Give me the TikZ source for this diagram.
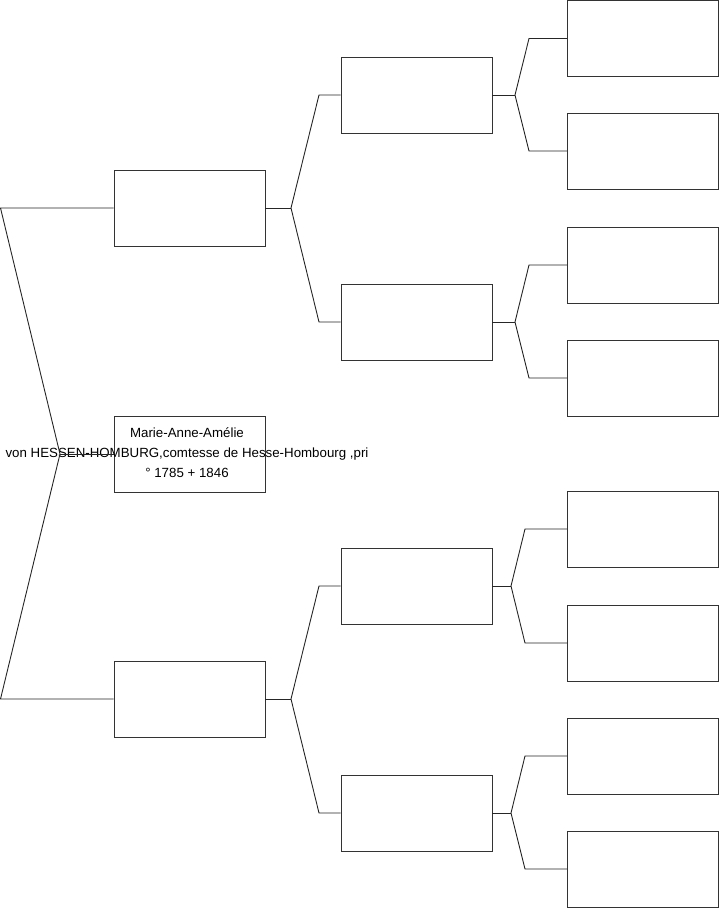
\documentclass[tikz,border=0pt]{standalone}
\usepackage{fontspec}
\setmainfont{Liberation Sans}
\begin{document}
\begin{tikzpicture}[x=1pt,y=-1pt,
    person/.style={draw=black!80, line width=0.8pt, minimum width=151pt, minimum height=76pt, inner sep=0pt},
    link/.style={draw=black!85, line width=0.9pt}]
    \useasboundingbox (0,0) rectangle (719,908);

    % Generation 1 (subject and parents)
    \node[person] (f) at (189.5,208) {};
    \node[person] (p) at (189.5,454) {};
    \node[person] (m) at (189.5,699) {};
    \node[font=\fontsize{13.3}{20}\selectfont, align=center, inner sep=0pt] (pname) at (187,453)
        {Marie-Anne-Amélie\\von HESSEN-HOMBURG,comtesse de Hesse-Hombourg ,pri\\° 1785 + 1846};

    % Generation 2
    \node[person] (ff) at (416.5,95) {};
    \node[person] (fm) at (416.5,322) {};
    \node[person] (mf) at (416.5,586) {};
    \node[person] (mm) at (416.5,813) {};

    % Generation 3
    \node[person] (fff) at (643,38.5) {};
    \node[person] (ffm) at (643,151) {};
    \node[person] (fmf) at (643,265) {};
    \node[person] (fmm) at (643,378) {};
    \node[person] (mff) at (643,529) {};
    \node[person] (mfm) at (643,643) {};
    \node[person] (mmf) at (643,756) {};
    \node[person] (mmm) at (643,869) {};

    % Fork points
    \coordinate (pk) at (60,454);
    \coordinate (pkt) at (0.5,208);
    \coordinate (pkb) at (0.5,699);

    \coordinate (fk) at (291,208);
    \coordinate (fkt) at (319,95);
    \coordinate (fkb) at (319,322);
    \coordinate (mk) at (291,699);
    \coordinate (mkt) at (319,586);
    \coordinate (mkb) at (319,813);

    \coordinate (ffk) at (515,95);
    \coordinate (ffkt) at (529,38.5);
    \coordinate (ffkb) at (529,151);
    \coordinate (fmk) at (515,322);
    \coordinate (fmkt) at (529,265);
    \coordinate (fmkb) at (529,378);
    \coordinate (mfk) at (511,586);
    \coordinate (mfkt) at (525,529);
    \coordinate (mfkb) at (525,643);
    \coordinate (mmk) at (511,813);
    \coordinate (mmkt) at (525,756);
    \coordinate (mmkb) at (525,869);

    % Connectors
    \draw[link] (p.west) -- (pk);
    \draw[link] (f.west) -- (pkt) -- (pk) -- (pkb) -- (m.west);

    \draw[link] (f.east) -- (fk);
    \draw[link] (ff.west) -- (fkt) -- (fk) -- (fkb) -- (fm.west);
    \draw[link] (m.east) -- (mk);
    \draw[link] (mf.west) -- (mkt) -- (mk) -- (mkb) -- (mm.west);

    \draw[link] (ff.east) -- (ffk);
    \draw[link] (fff.west) -- (ffkt) -- (ffk) -- (ffkb) -- (ffm.west);
    \draw[link] (fm.east) -- (fmk);
    \draw[link] (fmf.west) -- (fmkt) -- (fmk) -- (fmkb) -- (fmm.west);
    \draw[link] (mf.east) -- (mfk);
    \draw[link] (mff.west) -- (mfkt) -- (mfk) -- (mfkb) -- (mfm.west);
    \draw[link] (mm.east) -- (mmk);
    \draw[link] (mmf.west) -- (mmkt) -- (mmk) -- (mmkb) -- (mmm.west);

\end{tikzpicture}
\end{document}
